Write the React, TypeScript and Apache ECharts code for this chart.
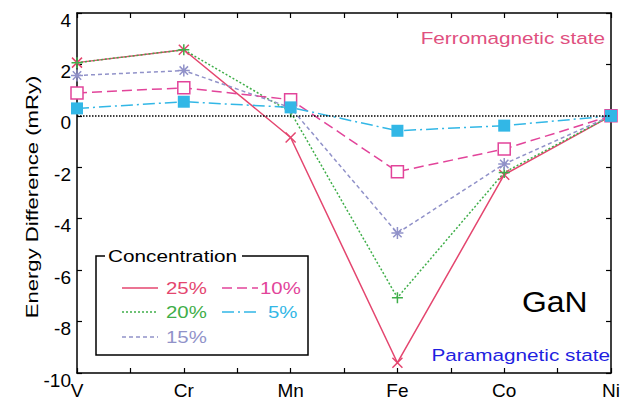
import React, { useEffect, useRef } from "react";
import * as echarts from "echarts";

const categories = ["V", "Cr", "Mn", "Fe", "Co", "Ni"];
const seriesNames = ["25%", "20%", "15%", "10%", "5%"];
const conc25 = [2.07, 2.57, -0.84, -9.6, -2.29, 0];
const conc20 = [2.07, 2.57, 0.15, -7.07, -2.2, 0];
const conc15 = [1.57, 1.76, 0.32, -4.56, -1.87, 0];
const conc10 = [0.89, 1.09, 0.63, -2.17, -1.29, 0];
const conc5 = [0.29, 0.55, 0.33, -0.58, -0.38, 0];
const yMin = -10;
const yMax = 4;
const yStep = 2;

const FONT = "'Liberation Sans', Arial, Helvetica, sans-serif";
const colors = ["#e4466f", "#3fae49", "#9192c9", "#e2449a", "#32b7e6"];
const dashes: any[] = ["solid", [2, 2], [4, 3], [10, 5], [12, 4, 2, 4]];
const symbols = [
  "path://M0,0L10,10M10,0L0,10",
  "path://M5,0L5,10M0,5L10,5",
  "path://M5,0L5,10M0,5L10,5M1.5,1.5L8.5,8.5M8.5,1.5L1.5,8.5",
  "rect",
  "rect",
];
const symbolSizes = [10, 11, 12, 12, 12];
const allData = [conc25, conc20, conc15, conc10, conc5];

export default function App() {
  const ref = useRef<HTMLDivElement>(null);
  useEffect(() => {
    if (!ref.current) return;
    const chart = echarts.init(ref.current, null, { renderer: "svg" });

    const series: any[] = [
      {
        type: "line",
        name: "zero",
        data: [],
        silent: true,
        markLine: {
          silent: true,
          symbol: ["none", "none"],
          label: { show: false },
          lineStyle: { type: [1.5, 1.5], color: "#000", width: 1.5 },
          data: [{ yAxis: 0 }],
        },
      },
    ];
    allData.forEach((vals, i) => {
      const isPath = symbols[i].startsWith("path://");
      series.push({
        type: "line",
        name: seriesNames[i],
        data: vals.map((v, k) => [k, v]),
        clip: false,
        symbol: symbols[i],
        symbolSize: symbolSizes[i],
        lineStyle: { color: colors[i], width: 1.5, type: dashes[i] },
        itemStyle: isPath
          ? { color: colors[i], borderColor: colors[i], borderWidth: 1.5 }
          : i === 3
          ? { color: "#fff", borderColor: colors[i], borderWidth: 1.5 }
          : { color: colors[i], borderColor: colors[i], borderWidth: 0 },
      });
    });

    const axisLine = { show: true, onZero: false, lineStyle: { color: "#000", width: 1.5 } };
    const axisTick = { show: true, inside: true, length: 5, lineStyle: { color: "#000", width: 1.2 } };

    const legendX0 = 96, legendY0 = 256, legendW = 212, legendH = 99;
    const legendPos = [
      [122, 288], [122, 312], [122, 337], [222, 288], [222, 312],
    ];
    const legendTextX = [166, 166, 166, 260, 268];
    const graphic: any[] = [
      {
        type: "rect", z: 100,
        shape: { x: legendX0, y: legendY0, width: legendW, height: legendH },
        style: { fill: "#fff", stroke: "#000", lineWidth: 1.5 },
      },
      {
        type: "rect", z: 101,
        shape: { x: 105, y: 250, width: 137, height: 12 },
        style: { fill: "#fff", stroke: null },
      },
      {
        type: "text", z: 102, x: 108, y: 256, scaleX: 1.22,
        style: { text: "Concentration", fill: "#000", fontSize: 17, fontFamily: FONT, align: "left", textAlign: "left", verticalAlign: "middle", textVerticalAlign: "middle" },
      },
    ];
    seriesNames.forEach((nm, i) => {
      const [lx, ly] = legendPos[i];
      const lw = 36;
      graphic.push({
        type: "line", z: 102,
        shape: { x1: lx, y1: ly, x2: lx + lw, y2: ly },
        style: { stroke: colors[i], lineWidth: 1.5, lineDash: dashes[i] === "solid" ? null : dashes[i] },
      });
      graphic.push({
        type: "text", z: 102, x: legendTextX[i], y: ly, scaleX: 1.2,
        style: { text: nm, fill: colors[i], fontSize: 17, fontFamily: FONT, align: "left", textAlign: "left", verticalAlign: "middle", textVerticalAlign: "middle" },
      });
    });
    graphic.push(
      {
        type: "text", z: 102, x: 605, y: 38, scaleX: 1.22,
        style: { text: "Ferromagnetic state", fill: "#e0507f", fontSize: 17, fontFamily: FONT, align: "right", textAlign: "right", verticalAlign: "middle", textVerticalAlign: "middle" },
      },
      {
        type: "text", z: 102, x: 610, y: 355, scaleX: 1.22,
        style: { text: "Paramagnetic state", fill: "#1f1fe0", fontSize: 17, fontFamily: FONT, align: "right", textAlign: "right", verticalAlign: "middle", textVerticalAlign: "middle" },
      },
      {
        type: "text", z: 102, x: 522, y: 302, scaleX: 1.1,
        style: { text: "GaN", fill: "#000", fontSize: 29, fontFamily: FONT, align: "left", textAlign: "left", verticalAlign: "middle", textVerticalAlign: "middle" },
      },
      {
        type: "text", z: 102, x: 32, y: 197, rotation: Math.PI / 2, scaleX: 1.3,
        style: { text: "Energy Difference (mRy)", fill: "#000", fontSize: 17, fontFamily: FONT, align: "center", textAlign: "center", verticalAlign: "middle", textVerticalAlign: "middle" },
      }
    );

    const xFormatter = (v: number) => (Number.isInteger(v) ? categories[v] ?? "" : "");

    chart.setOption({
      animation: false,
      backgroundColor: "#fff",
      grid: { left: 77, right: 11, top: 13, bottom: 27, containLabel: false },
      xAxis: [
        {
          type: "value", position: "bottom", min: 0, max: categories.length - 1, interval: 0.5,
          axisLine, axisTick, splitLine: { show: false },
          axisLabel: { formatter: xFormatter, color: "#000", fontSize: 19, fontFamily: FONT, margin: 8, showMinLabel: true, showMaxLabel: true, hideOverlap: false },
        },
        {
          type: "value", position: "top", min: 0, max: categories.length - 1, interval: 0.5,
          axisLine, axisTick, splitLine: { show: false }, axisLabel: { show: false },
        },
      ],
      yAxis: [
        {
          type: "value", position: "left", min: yMin, max: yMax, interval: yStep,
          axisLine, axisTick, splitLine: { show: false },
          axisLabel: {
            formatter: (v: number) => "{t|" + v + "}",
            rich: { t: { color: "#000", fontSize: 19, fontFamily: FONT, padding: [14, 0, 0, 0] } },
            margin: 6, showMinLabel: true, showMaxLabel: true,
          },
        },
        {
          type: "value", position: "right", min: yMin, max: yMax, interval: yStep,
          axisLine, axisTick, splitLine: { show: false }, axisLabel: { show: false },
        },
      ],
      series,
      graphic,
    });
    return () => chart.dispose();
  }, []);
  return (
    <div
      ref={ref}
      style={{ position: "fixed", left: 0, top: 0, width: 623, height: 400, background: "#fff" }}
    />
  );
}
